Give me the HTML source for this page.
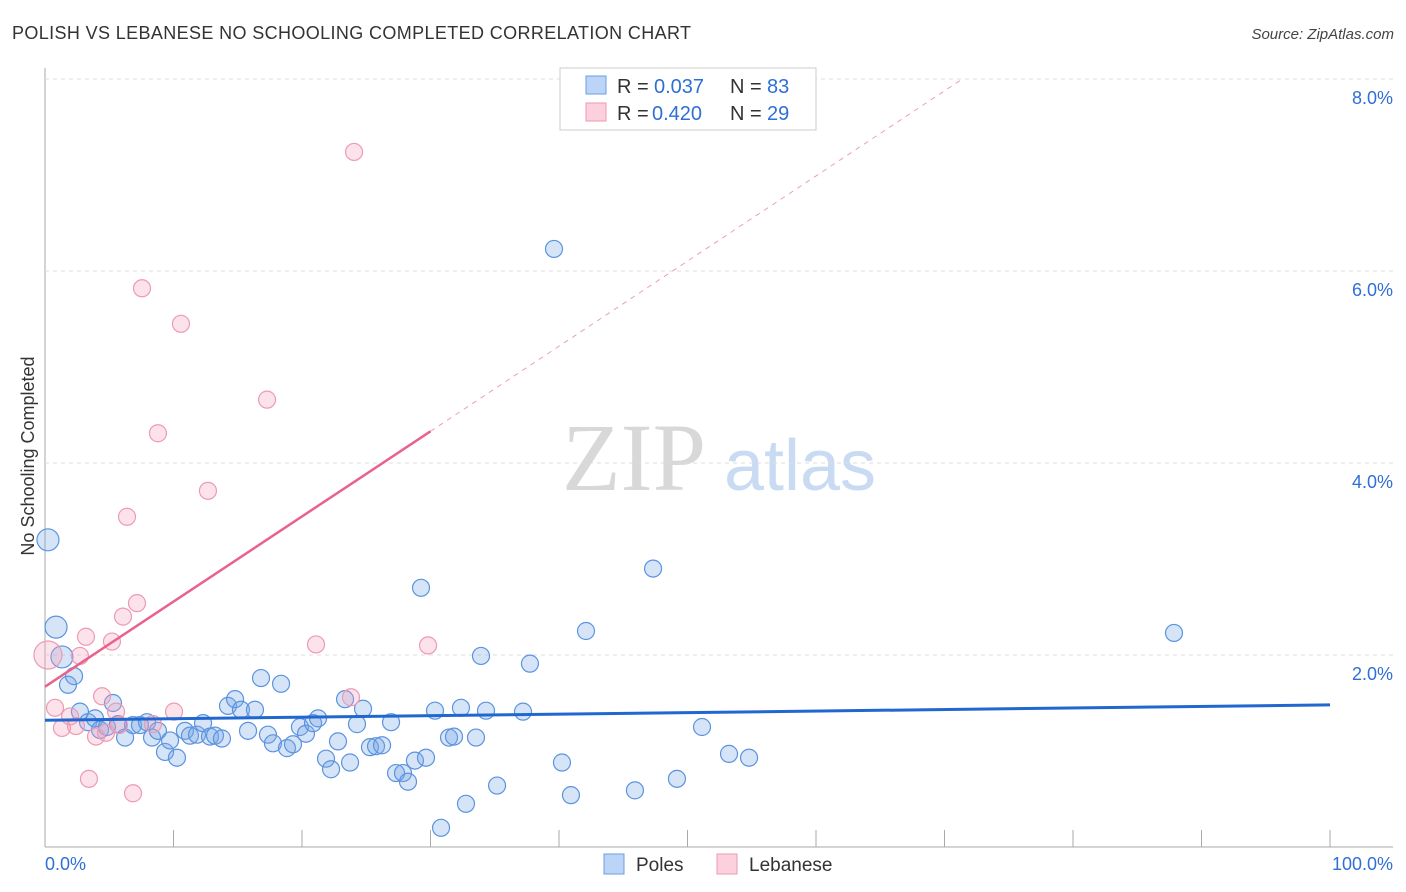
<!DOCTYPE html>
<html><head><meta charset="utf-8"><style>
body{margin:0;background:#fff;font-family:"Liberation Sans",sans-serif;}
#wrap{position:relative;width:1406px;height:892px;overflow:hidden;}
</style></head><body>
<div id="wrap">
<svg id="svg" width="1406" height="892" xmlns="http://www.w3.org/2000/svg">
<text x="12" y="39" font-size="18" fill="#333" textLength="679">POLISH VS LEBANESE NO SCHOOLING COMPLETED CORRELATION CHART</text>
<text x="1394" y="39" font-size="15" fill="#444" font-style="italic" text-anchor="end">Source: ZipAtlas.com</text>
<text x="634" y="490" font-size="96" fill="#d8d8d8" font-family="Liberation Serif,serif" text-anchor="middle">ZIP</text>
<text x="800" y="490" font-size="72" fill="#c9dbf2" text-anchor="middle">atlas</text>
<text transform="translate(34,456) rotate(-90)" font-size="18" fill="#333" text-anchor="middle">No Schooling Completed</text>
<g id="grid"></g><g id="marks"></g>
<rect x="560" y="68" width="256" height="62" fill="#fff" stroke="#ccc"/>
<rect x="586" y="76" width="20" height="18" fill="#bcd4f5" stroke="#6b9ee6"/>
<rect x="586" y="103" width="20" height="18" fill="#fcd0dc" stroke="#ee9ab2"/>
<g font-size="20">
<text x="617" y="93" fill="#333">R =</text><text x="654" y="93" fill="#2f6fd6">0.037</text>
<text x="730" y="93" fill="#333">N =</text><text x="767" y="93" fill="#2f6fd6">83</text></g>
<g font-size="20">
<text x="617" y="120" fill="#333">R =</text><text x="652" y="120" fill="#2f6fd6">0.420</text>
<text x="730" y="120" fill="#333">N =</text><text x="767" y="120" fill="#2f6fd6">29</text></g>
<rect x="604" y="854" width="20" height="20" fill="#bcd4f5" stroke="#6b9ee6"/>
<text x="636" y="871" font-size="19" fill="#333">Poles</text>
<rect x="717" y="854" width="20" height="20" fill="#fcd0dc" stroke="#ee9ab2"/>
<text x="749" y="871" font-size="19" fill="#333">Lebanese</text>
<text x="45" y="870" font-size="18" fill="#2f6fd6">0.0%</text>
<text x="1393" y="870" font-size="18" fill="#2f6fd6" text-anchor="end">100.0%</text>
</svg>
</div>
<script>
const yTicks=[2,4,6,8];
const yTickLabels=["2.0%","4.0%","6.0%","8.0%"];
const polesX=[0.23,0.86,1.32,1.79,2.26,2.72,3.35,3.89,4.28,4.82,5.29,5.68,6.23,6.85,7.39,7.94,8.33,8.79,9.34,9.73,10.27,10.89,11.28,11.83,12.30,12.84,13.23,13.77,14.24,14.79,15.25,15.80,16.34,16.81,17.35,17.74,18.37,18.83,19.30,19.84,20.31,20.86,21.25,21.87,22.26,22.80,23.35,23.74,24.28,24.75,25.29,25.76,26.23,26.93,27.32,27.86,28.25,28.79,29.26,29.65,30.35,30.82,31.44,31.83,32.37,32.76,33.54,33.93,34.32,35.18,37.20,37.74,39.61,40.23,40.93,42.10,45.91,47.32,49.18,51.13,53.23,54.79,87.86];
const polesY=[3.20,2.29,1.98,1.69,1.78,1.41,1.30,1.34,1.22,1.25,1.50,1.28,1.14,1.27,1.27,1.30,1.14,1.21,0.99,1.11,0.93,1.21,1.16,1.17,1.29,1.15,1.16,1.13,1.47,1.54,1.43,1.21,1.43,1.76,1.17,1.08,1.70,1.03,1.07,1.25,1.18,1.29,1.34,0.92,0.81,1.10,1.54,0.88,1.28,1.44,1.04,1.05,1.06,1.30,0.77,0.77,0.68,0.90,2.70,0.93,1.42,0.20,1.14,1.15,1.45,0.45,1.14,1.99,1.42,0.64,1.41,1.91,6.23,0.88,0.54,2.25,0.59,2.90,0.71,1.25,0.97,0.93,2.23];
const lebX=[0.23,0.78,1.32,1.95,2.41,2.72,3.19,3.42,3.97,4.44,4.75,5.21,5.53,5.76,6.07,6.38,6.85,7.16,7.55,8.40,8.79,10.04,10.58,12.68,17.28,21.09,23.81,24.05,29.81];
const lebY=[2.00,1.45,1.24,1.36,1.26,1.99,2.19,0.71,1.15,1.57,1.19,2.14,1.41,1.27,2.40,3.44,0.56,2.54,5.82,1.28,4.31,1.41,5.45,3.71,4.66,2.11,1.56,7.24,2.10];
const polesTrend=[1.32,1.48];
const lebTrend=[1.67,4.33];
const lebTrendSolidEnd=30;
const ns="http://www.w3.org/2000/svg";
const X=v=>45+v*12.85, Y=v=>847-v*96;
function mk(t,a,p){const e=document.createElementNS(ns,t);for(const k in a)e.setAttribute(k,a[k]);p.appendChild(e);return e;}
const grid=document.getElementById('grid'),marks=document.getElementById('marks');
let ax=mk('line',{x1:45,y1:68,x2:45,y2:847,stroke:'#aaa'},grid);


let bx=mk('line',{x1:45,y1:847,x2:1393,y2:847,stroke:'#aaa'},grid);


for(let i=0;i<=10;i++){const t=mk('line',{x1:X(i*10),y1:830,x2:X(i*10),y2:847,stroke:'#aaa'},grid);

}
yTicks.forEach((v,i)=>{const g=mk('line',{x1:45,y1:Y(v),x2:1393,y2:Y(v),stroke:'#ddd','stroke-dasharray':'4,4'},grid);


const t=mk('text',{x:1393,y:Y(v)+25,'font-size':18,fill:'#2f6fd6','text-anchor':'end'},grid);t.textContent=yTickLabels[i];

});
polesX.forEach((x,i)=>{const r=(x<1.5)?11:8.5;const c=mk('circle',{cx:X(x),cy:Y(polesY[i]),r:r,fill:'rgba(120,165,230,0.3)',stroke:'#5b93e0','stroke-width':1.2},marks);

});
lebX.forEach((x,i)=>{const r=(i==0)?14:8.5;const c=mk('circle',{cx:X(x),cy:Y(lebY[i]),r:r,fill:'rgba(245,160,185,0.3)',stroke:'#ee9ab2','stroke-width':1.2},marks);

});
const slope=(lebTrend[1]-lebTrend[0])/lebTrendSolidEnd;
const xEnd=(8.0-lebTrend[0])/slope;
let d=mk('line',{x1:X(lebTrendSolidEnd),y1:Y(lebTrend[1]),x2:X(xEnd),y2:Y(8.0),stroke:'#eaa0b6','stroke-width':1,'stroke-dasharray':'5,5'},marks);


let l=mk('line',{x1:X(0),y1:Y(lebTrend[0]),x2:X(lebTrendSolidEnd),y2:Y(lebTrend[1]),stroke:'#e8628c','stroke-width':2.5},marks);


let p=mk('line',{x1:X(0),y1:Y(polesTrend[0]),x2:X(100),y2:Y(polesTrend[1]),stroke:'#2068d0','stroke-width':3},marks);


</script>
</body></html>
